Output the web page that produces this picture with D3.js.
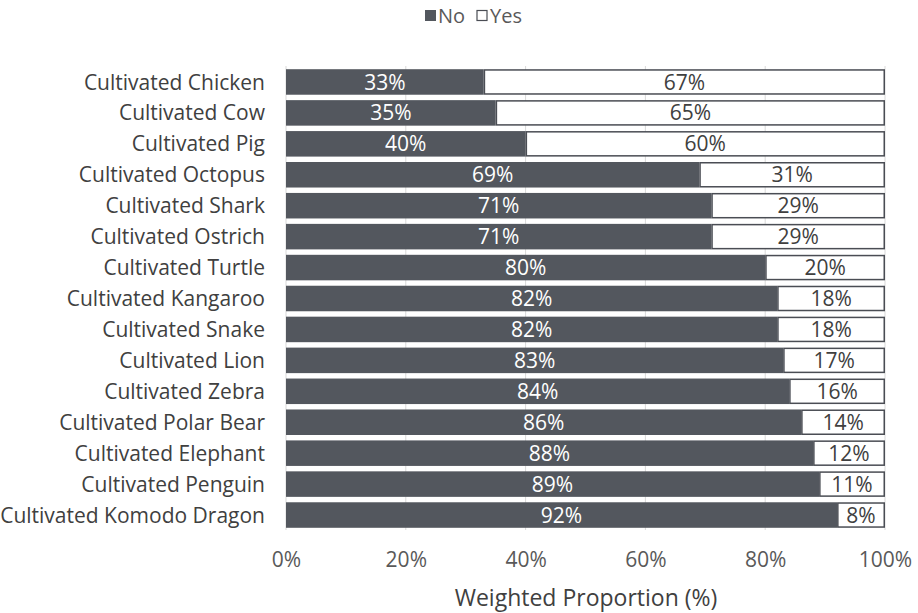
<!DOCTYPE html>
<html>
<head>
<meta charset="utf-8">
<script src="https://cdn.jsdelivr.net/npm/d3@7"></script>
<style>
  body { margin: 0; background: #fff; }
  text { font-family: "Open Sans", sans-serif; }
</style>
</head>
<body>
<div id="chart"></div>
<script>
const categories = [
    "Cultivated Chicken", "Cultivated Cow", "Cultivated Pig", "Cultivated Octopus",
    "Cultivated Shark", "Cultivated Ostrich", "Cultivated Turtle", "Cultivated Kangaroo",
    "Cultivated Snake", "Cultivated Lion", "Cultivated Zebra", "Cultivated Polar Bear",
    "Cultivated Elephant", "Cultivated Penguin", "Cultivated Komodo Dragon"
];
const noValues = [33, 35, 40, 69, 71, 71, 80, 82, 82, 83, 84, 86, 88, 89, 92];
const yesValues = [67, 65, 60, 31, 29, 29, 20, 18, 18, 17, 16, 14, 12, 11, 8];
const xTicks = [0, 20, 40, 60, 80, 100];

const width = 918, height = 613;
const darkFill = "#53575e";
const outline = "#4a4d54";
const fs = 21;

const svg = d3.select("#chart").append("svg")
    .attr("width", width)
    .attr("height", height);

const x = d3.scaleLinear().domain([0, 100]).range([286, 885]);
const y = d3.scaleBand().domain(categories).range([66.5, 530.5]).paddingInner(0.175).paddingOuter(0.0875);

// gridlines
svg.selectAll(".grid")
    .data(xTicks)
    .enter()
    .append("line")
    .attr("x1", d => x(d))
    .attr("x2", d => x(d))
    .attr("y1", 66)
    .attr("y2", 530)
    .attr("stroke", "#d9d9d9")
    .attr("stroke-width", 1);

const rows = categories.map((c, i) => ({ cat: c, no: noValues[i], yes: yesValues[i] }));

// No segments
svg.selectAll(".no")
    .data(rows)
    .enter()
    .append("rect")
    .attr("x", x(0))
    .attr("y", d => y(d.cat))
    .attr("width", d => x(d.no) - x(0))
    .attr("height", y.bandwidth())
    .attr("fill", darkFill);

// Yes segments
svg.selectAll(".yes")
    .data(rows)
    .enter()
    .append("rect")
    .attr("x", d => x(d.no) + 0.75)
    .attr("y", d => y(d.cat) + 0.75)
    .attr("width", d => x(100) - x(d.no) - 1.5)
    .attr("height", y.bandwidth() - 1.5)
    .attr("fill", "#fff")
    .attr("stroke", outline)
    .attr("stroke-width", 1.5);

// labels
svg.selectAll(".noLabel")
    .data(rows)
    .enter()
    .append("text")
    .attr("x", d => (x(0) + x(d.no)) / 2)
    .attr("y", d => y(d.cat) + y.bandwidth() / 2)
    .attr("dy", "0.36em")
    .attr("text-anchor", "middle")
    .attr("font-size", fs)
    .attr("fill", "#fff")
    .text(d => d.no + "%");

svg.selectAll(".yesLabel")
    .data(rows)
    .enter()
    .append("text")
    .attr("x", d => (x(d.no) + x(100)) / 2)
    .attr("y", d => y(d.cat) + y.bandwidth() / 2)
    .attr("dy", "0.36em")
    .attr("text-anchor", "middle")
    .attr("font-size", fs)
    .attr("fill", "#404040")
    .text(d => d.yes + "%");

// category axis
svg.selectAll(".cat")
    .data(categories)
    .enter()
    .append("text")
    .attr("x", 265)
    .attr("y", d => y(d) + y.bandwidth() / 2)
    .attr("dy", "0.36em")
    .attr("text-anchor", "end")
    .attr("font-size", fs)
    .attr("fill", "#404040")
    .text(d => d);

// x axis
const xAxis = svg.append("g")
    .attr("transform", "translate(0,530)")
    .call(d3.axisBottom(x).tickValues(xTicks).tickFormat(d => d + "%").tickSize(0).tickPadding(22));
xAxis.select(".domain").remove();
xAxis.selectAll("text")
    .attr("font-family", "Open Sans, sans-serif")
    .attr("font-size", fs)
    .attr("fill", "#595959");

svg.append("text")
    .attr("x", 586)
    .attr("y", 606)
    .attr("text-anchor", "middle")
    .attr("font-size", 23)
    .attr("fill", "#404040")
    .text("Weighted Proportion (%)");

// legend
const legend = svg.append("g").attr("transform", "translate(425,9)");
legend.append("rect").attr("x", 0).attr("y", 1).attr("width", 11).attr("height", 11).attr("fill", darkFill);
legend.append("text").attr("x", 13).attr("y", 7).attr("dy", "0.36em").attr("font-size", 20).attr("fill", "#595959").text("No");
legend.append("rect").attr("x", 52).attr("y", 1.5).attr("width", 10).attr("height", 10).attr("fill", "#fff").attr("stroke", outline).attr("stroke-width", 1.2);
legend.append("text").attr("x", 65).attr("y", 7).attr("dy", "0.36em").attr("font-size", 20).attr("fill", "#595959").text("Yes");
</script>
</body>
</html>
